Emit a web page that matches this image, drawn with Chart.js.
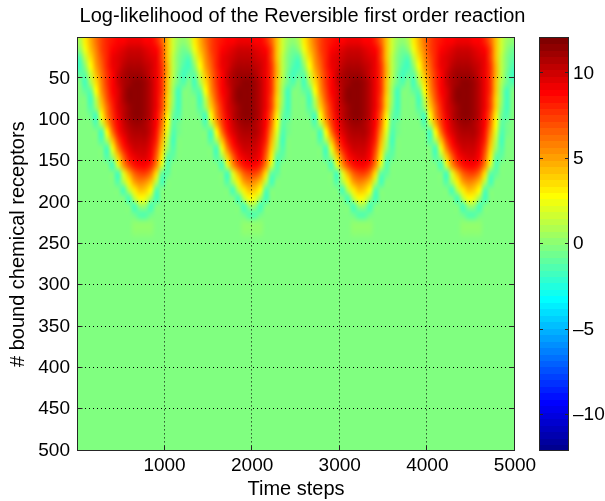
<!DOCTYPE html>
<html>
<head>
<meta charset="utf-8">
<script src="https://cdn.jsdelivr.net/npm/chart.js@4.4.1/dist/chart.umd.min.js"></script>
<style>
  html, body { margin: 0; padding: 0; background: #fff; }
  canvas { display: block; }
</style>
</head>
<body>
<canvas id="logLikChart" width="605" height="501"></canvas>
<script>
// tick labels
const xTicks = [1000, 2000, 3000, 4000, 5000];
const yTicks = [50, 100, 150, 200, 250, 300, 350, 400, 450, 500];
const cbTicks = [-10, -5, 0, 5, 10];
const colorLimits = [-12.1, 12.1];

// the four bumps look the same, one starts every 1250 time steps
const bumpStartTimes = [0, 1250, 2500, 3750];
const timeBinWidth = 62.5;      // 20 bins per bump
const receptorBinWidth = 10;    // rows 0..250, everything below is flat
const outsideValue = -0.1;      // receptors 250..500

const bumpLogLik = [
  [0.8, 3.2, 4.8, 6.3, 7.3, 8, 8.5, 8.8, 9, 9.1, 9.1, 9.1, 9, 8.8, 8.3, 6.8, 4.3, 1.8, 0.4, 0.1],
  [0.2, 2.4, 4.2, 6, 7.3, 8.3, 9, 9.4, 9.7, 9.9, 10, 9.9, 9.7, 9.4, 8.8, 7.3, 4.4, 1.6, 0.2, -0.4],
  [-1.4, 1.4, 3.6, 5.6, 7, 8.2, 9.1, 9.7, 10.1, 10.4, 10.5, 10.4, 10.2, 9.8, 9.1, 7.5, 4.5, 1.5, -0.1, -0.8],
  [-1.6, 0.3, 2.8, 5, 6.7, 8, 9.1, 9.8, 10.4, 10.8, 10.9, 10.8, 10.5, 10, 9.3, 7.6, 4.6, 1.4, -0.2, -1.4],
  [-0.9, -1, 1.8, 4.3, 6.3, 7.8, 9, 9.9, 10.6, 11.1, 11.3, 11.2, 10.8, 10.2, 9.4, 7.8, 4.6, 1.2, -0.4, -1.6],
  [-0.1, -1.6, 0.8, 3.6, 5.9, 7.6, 8.9, 9.9, 10.7, 11.3, 11.5, 11.4, 11, 10.3, 9.4, 7.7, 4.5, 1, -0.6, -1.2],
  [-0.1, -1, -1, 2.8, 5.4, 7.3, 8.8, 9.8, 10.7, 11.4, 11.6, 11.5, 11.1, 10.4, 9.4, 7.6, 4.3, 0.7, -1.6, -0.3],
  [-0.1, -0.1, -1.6, 1.5, 4.7, 6.9, 8.6, 9.7, 10.6, 11.4, 11.7, 11.6, 11.2, 10.5, 9.4, 7.5, 4.1, 0.4, -1.6, -0.1],
  [-0.1, -0.1, -1.2, 0.5, 4, 6.4, 8.3, 9.6, 10.5, 11.3, 11.6, 11.6, 11.2, 10.5, 9.4, 7.4, 3.9, 0.2, -1.6, -0.1],
  [-0.1, -0.1, -0.4, -1.6, 2.8, 5.7, 7.9, 9.3, 10.3, 11.1, 11.5, 11.5, 11.1, 10.4, 9, 6.7, 3.4, -0.4, -1.3, -0.1],
  [-0.1, -0.1, -0.1, -1.3, 1.2, 4.7, 7.2, 9, 10, 10.8, 11.2, 11.2, 10.9, 10.2, 8.8, 6.1, 2.9, -1, -0.7, -0.1],
  [-0.1, -0.1, -0.1, -0.3, -1.6, 2.9, 6.2, 8.4, 9.6, 10.4, 10.8, 10.9, 10.6, 9.9, 8.5, 5.4, 2.2, -1.3, -0.5, -0.1],
  [-0.1, -0.1, -0.1, -0.1, -1.2, 0.8, 4.4, 7.3, 9, 9.9, 10.4, 10.5, 10.3, 9.7, 8, 4.7, 1.4, -1.6, -0.3, -0.1],
  [-0.1, -0.1, -0.1, -0.1, -0.3, -1.6, 2.4, 5.9, 8, 9.3, 9.9, 10.1, 9.9, 9.3, 7.3, 4.1, 0.4, -1.4, -0.1, -0.1],
  [-0.1, -0.1, -0.1, -0.1, -0.1, -1.3, 0.5, 3.9, 6.8, 8.5, 9.3, 9.6, 9.5, 8.9, 6.8, 3.4, -0.8, -1, -0.1, -0.1],
  [-0.1, -0.1, -0.1, -0.1, -0.1, -0.3, -1.6, 2, 5.3, 7.4, 8.5, 8.9, 8.8, 8, 5.8, 2.2, -1.5, -0.3, -0.1, -0.1],
  [-0.1, -0.1, -0.1, -0.1, -0.1, -0.1, -0.3, -1.6, 2, 4.9, 6.6, 7.3, 7.2, 6.1, 3.7, -0.8, -0.8, -0.1, -0.1, -0.1],
  [-0.1, -0.1, -0.1, -0.1, -0.1, -0.1, -0.1, -1.4, 1, 3.4, 5.1, 5.8, 5.6, 4.4, 1.4, -1.6, -0.1, -0.1, -0.1, -0.1],
  [-0.1, -0.1, -0.1, -0.1, -0.1, -0.1, -0.1, -0.3, -1.6, 1.5, 3.4, 4.2, 4.1, 2.7, -1.3, -0.3, -0.1, -0.1, -0.1, -0.1],
  [-0.1, -0.1, -0.1, -0.1, -0.1, -0.1, -0.1, -0.1, -0.3, -1.6, 1.5, 2.7, 2.6, 0.5, -1.6, -0.1, -0.1, -0.1, -0.1, -0.1],
  [-0.1, -0.1, -0.1, -0.1, -0.1, -0.1, -0.1, -0.1, -0.1, -0.3, -1.6, 0.3, 0.3, -1.6, -0.2, -0.1, -0.1, -0.1, -0.1, -0.1],
  [-0.1, -0.1, -0.1, -0.1, -0.1, -0.1, -0.1, -0.1, -0.1, -0.1, -0.6, -1.4, -1.4, -0.6, -0.1, -0.1, -0.1, -0.1, -0.1, -0.1],
  [-0.1, -0.1, -0.1, -0.1, -0.1, -0.1, -0.1, -0.1, -0.1, -0.1, 0.2, 0.3, 0.3, 0.2, -0.1, -0.1, -0.1, -0.1, -0.1, -0.1],
  [-0.1, -0.1, -0.1, -0.1, -0.1, -0.1, -0.1, -0.1, -0.1, -0.1, 0.1, 0.2, 0.2, 0.1, -0.1, -0.1, -0.1, -0.1, -0.1, -0.1],
  [-0.1, -0.1, -0.1, -0.1, -0.1, -0.1, -0.1, -0.1, -0.1, -0.1, -0.1, -0.1, -0.1, -0.1, -0.1, -0.1, -0.1, -0.1, -0.1, -0.1]
];

// matlab jet(m)
function jetColormap(m) {
  const n = Math.ceil(m / 4);
  const u = [];
  for (let i = 1; i <= n; i++) u.push(i / n);
  for (let i = 1; i < n; i++) u.push(1);
  for (let i = n; i >= 1; i--) u.push(i / n);
  const g0 = Math.ceil(n / 2) - (m % 4 === 1 ? 1 : 0);
  const map = Array.from({ length: m }, () => [0, 0, 0]);
  u.forEach((val, i) => {
    const g = g0 + i + 1, r = g + n, b = g - n;
    if (r >= 1 && r <= m) map[r - 1][0] = val;
    if (g >= 1 && g <= m) map[g - 1][1] = val;
    if (b >= 1 && b <= m) map[b - 1][2] = val;
  });
  return map;
}
const jet = jetColormap(64);

function jetRgb(v) {
  const f = (v - colorLimits[0]) / (colorLimits[1] - colorLimits[0]);
  const k = Math.max(0, Math.min(jet.length - 1, Math.floor(f * jet.length)));
  return jet[k].map(c => Math.round(c * 255));
}

const FONT = '"Liberation Sans", Arial, sans-serif';
const TICK_SIZE = 19;

const heatmap = {
  id: 'heatmap',
  beforeDraw(chart) {
    const { ctx, chartArea: area, scales: { x, y } } = chart;
    ctx.save();
    ctx.fillStyle = '#fff';
    ctx.fillRect(0, 0, chart.width, chart.height);

    const perBump = bumpLogLik[0].length;
    const nCols = bumpStartTimes.length * perBump;
    const nRows = bumpLogLik.length;
    const off = document.createElement('canvas');
    off.width = nCols;
    off.height = nRows;
    const octx = off.getContext('2d');
    const img = octx.createImageData(nCols, nRows);
    bumpStartTimes.forEach((start, b) => {
      bumpLogLik.forEach((row, r) => {
        row.forEach((v, c) => {
          const p = (r * nCols + b * perBump + c) * 4;
          const rgb = jetRgb(v);
          img.data[p] = rgb[0];
          img.data[p + 1] = rgb[1];
          img.data[p + 2] = rgb[2];
          img.data[p + 3] = 255;
        });
      });
    });
    octx.putImageData(img, 0, 0);

    ctx.beginPath();
    ctx.rect(area.left, area.top, area.width, area.height);
    ctx.clip();

    const t0 = bumpStartTimes[0];
    const t1 = bumpStartTimes[bumpStartTimes.length - 1] + perBump * timeBinWidth;
    const rEnd = nRows * receptorBinWidth;
    const px0 = x.getPixelForValue(t0), px1 = x.getPixelForValue(t1);
    const py0 = y.getPixelForValue(0), py1 = y.getPixelForValue(rEnd);

    const bg = jetRgb(outsideValue);
    ctx.fillStyle = `rgb(${bg[0]},${bg[1]},${bg[2]})`;
    ctx.fillRect(area.left, area.top, area.width, area.height);

    ctx.imageSmoothingEnabled = true;
    ctx.imageSmoothingQuality = 'high';
    ctx.drawImage(off, px0, py0, px1 - px0, py1 - py0);
    ctx.restore();
  },
  afterDraw(chart) {
    const { ctx, chartArea: area, scales: { x, y, cb } } = chart;
    ctx.save();
    // dotted grid
    ctx.strokeStyle = '#000';
    ctx.lineWidth = 1;
    ctx.setLineDash([1, 3]);
    xTicks.forEach(v => {
      const px = Math.round(x.getPixelForValue(v)) - 0.5;
      if (px > area.right - 2) return;
      ctx.beginPath();
      ctx.moveTo(px, area.top);
      ctx.lineTo(px, area.bottom);
      ctx.stroke();
    });
    yTicks.forEach(v => {
      const py = Math.round(y.getPixelForValue(v)) - 0.5;
      if (py > area.bottom - 2) return;
      ctx.beginPath();
      ctx.moveTo(area.left, py);
      ctx.lineTo(area.right, py);
      ctx.stroke();
    });
    ctx.setLineDash([]);

    // box and inward tick marks
    const L = Math.round(area.left) + 0.5, R = Math.round(area.right) - 0.5;
    const T = Math.round(area.top) + 0.5, B = Math.round(area.bottom) - 0.5;
    ctx.strokeStyle = '#262626';
    ctx.strokeRect(L, T, R - L, B - T);
    ctx.beginPath();
    xTicks.forEach(v => {
      const px = Math.round(x.getPixelForValue(v)) - 0.5;
      ctx.moveTo(px, B); ctx.lineTo(px, B - 5);
      ctx.moveTo(px, T); ctx.lineTo(px, T + 5);
    });
    yTicks.forEach(v => {
      const py = Math.round(y.getPixelForValue(v)) - 0.5;
      ctx.moveTo(L, py); ctx.lineTo(L + 5, py);
      ctx.moveTo(R, py); ctx.lineTo(R - 5, py);
    });
    ctx.stroke();

    // colorbar
    const cbX = Math.round(cb.left) + 24, cbW = 30;
    const step = (colorLimits[1] - colorLimits[0]) / jet.length;
    jet.forEach((c, k) => {
      const ya = cb.getPixelForValue(colorLimits[0] + k * step);
      const yb = cb.getPixelForValue(colorLimits[0] + (k + 1) * step);
      ctx.fillStyle = `rgb(${Math.round(c[0] * 255)},${Math.round(c[1] * 255)},${Math.round(c[2] * 255)})`;
      ctx.fillRect(cbX, Math.floor(yb), cbW, Math.ceil(ya) - Math.floor(yb));
    });
    const cT = Math.round(cb.top) + 0.5, cB = Math.round(cb.bottom) - 0.5;
    ctx.strokeStyle = '#262626';
    ctx.strokeRect(cbX + 0.5, cT, cbW - 1, cB - cT);
    ctx.beginPath();
    cbTicks.forEach(v => {
      const py = Math.round(cb.getPixelForValue(v)) - 0.5;
      ctx.moveTo(cbX, py); ctx.lineTo(cbX + 4, py);
      ctx.moveTo(cbX + cbW, py); ctx.lineTo(cbX + cbW - 4, py);
    });
    ctx.stroke();

    // colorbar labels
    ctx.fillStyle = '#000';
    ctx.font = TICK_SIZE + 'px ' + FONT;
    ctx.textAlign = 'left';
    ctx.textBaseline = 'middle';
    cbTicks.forEach(v => {
      const label = v < 0 ? '\u2013' + Math.abs(v) : String(v);
      ctx.fillText(label, cbX + cbW + 4, cb.getPixelForValue(v));
    });
    ctx.restore();
  }
};

Chart.defaults.font.family = FONT;
Chart.defaults.color = '#000';

new Chart(document.getElementById('logLikChart'), {
  type: 'scatter',
  data: { datasets: [] },
  options: {
    responsive: false,
    animation: false,
    devicePixelRatio: 1,
    layout: { padding: 0 },
    plugins: {
      legend: { display: false },
      tooltip: { enabled: false },
      title: {
        display: true,
        text: 'Log-likelihood of the Reversible first order reaction',
        color: '#000',
        font: { size: 20, weight: 'normal' },
        padding: { top: 4, bottom: 9.4 }
      }
    },
    scales: {
      x: {
        type: 'linear',
        position: 'bottom',
        min: 0.5,
        max: 5000.5,
        afterBuildTicks: s => { s.ticks = xTicks.map(v => ({ value: v })); },
        afterFit: s => { s.height = 50; },
        ticks: { callback: v => String(v), font: { size: TICK_SIZE }, padding: 3, maxRotation: 0, autoSkip: false },
        grid: { display: false, drawTicks: false },
        border: { display: false },
        title: { display: true, text: 'Time steps', font: { size: 20 }, padding: { top: 0, bottom: 0 } }
      },
      y: {
        type: 'linear',
        position: 'left',
        reverse: true,
        min: 0.5,
        max: 500.5,
        afterBuildTicks: s => { s.ticks = yTicks.map(v => ({ value: v })); },
        afterFit: s => { s.width = 77; },
        ticks: { callback: v => String(v), font: { size: TICK_SIZE }, padding: 7, autoSkip: false },
        grid: { display: false, drawTicks: false },
        border: { display: false },
        title: { display: true, text: '# bound chemical receptors', font: { size: 20 }, padding: { top: 6, bottom: 0 } }
      },
      cb: {
        type: 'linear',
        position: 'right',
        min: colorLimits[0],
        max: colorLimits[1],
        afterBuildTicks: s => { s.ticks = cbTicks.map(v => ({ value: v })); },
        afterFit: s => { s.width = 90; },
        ticks: { display: false },
        grid: { display: false, drawTicks: false },
        border: { display: false }
      }
    }
  },
  plugins: [heatmap]
});
</script>
</body>
</html>
